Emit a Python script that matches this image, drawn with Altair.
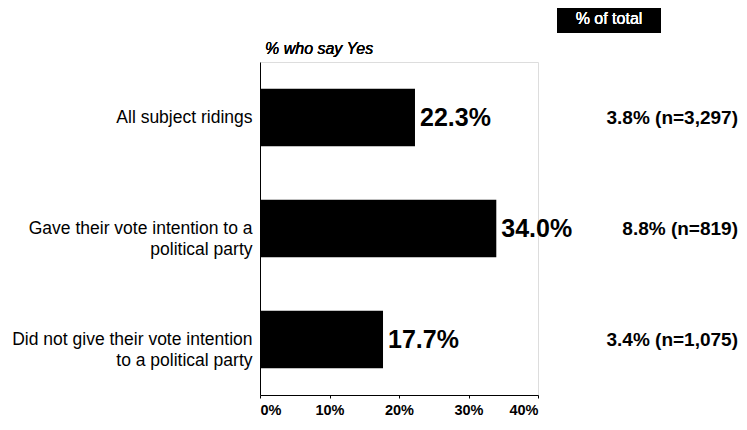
import altair as alt
import pandas as pd

categories = [
    "All subject ridings",
    "Gave their vote intention to a|political party",
    "Did not give their vote intention|to a political party",
]
yes_pct = [22.3, 34.0, 17.7]
total_pct = [3.8, 8.8, 3.4]
n_counts = ["3,297", "819", "1,075"]
x_ticks = [0, 10, 20, 30, 40]

df = pd.DataFrame({
    "cat": categories,
    "yes": yes_pct,
    "yes_label": [f"{v:.1f}%" for v in yes_pct],
    "total_label": [f"{t:.1f}% (n={n})" for t, n in zip(total_pct, n_counts)],
})

SANS = "Liberation Sans, Arial"

y_enc = alt.Y(
    "cat:N",
    sort=categories,
    scale=alt.Scale(paddingInner=0.48, paddingOuter=0.24),
    axis=alt.Axis(
        title=None,
        labelExpr="split(datum.label, '|')",
        labelFont=SANS,
        labelFontSize=17.5,
        labelColor="black",
        labelLineHeight=21,
        labelPadding=8,
        ticks=False,
        domainColor="black",
        domainWidth=1,
        labelLimit=300,
    ),
)

x_enc = alt.X(
    "yes:Q",
    scale=alt.Scale(domain=[0, 40]),
    axis=alt.Axis(
        title=None,
        values=x_ticks,
        labelExpr="datum.value + '%'",
        grid=False,
        labelFont=SANS,
        labelFontWeight="bold",
        labelFontSize=14.5,
        labelColor="black",
        labelPadding=5,
        tickSize=3,
        tickColor="black",
        domainColor="black",
    ),
)

base = alt.Chart(df)

bars = base.mark_bar(color="black").encode(x=x_enc, y=y_enc)

val_text = base.mark_text(
    align="left", baseline="middle", dx=5, font=SANS, fontWeight="bold",
    fontSize=25, color="black",
).encode(x="yes:Q", y=alt.Y("cat:N", sort=categories), text="yes_label:N")

tot_text = base.mark_text(
    align="right", baseline="middle", font=SANS, fontWeight="bold",
    fontSize=19, color="black",
).encode(x=alt.value(478), y=alt.Y("cat:N", sort=categories), text="total_label:N")

box = base.mark_rect(color="black").encode(
    x=alt.value(297), x2=alt.value(401), y=alt.value(-57), y2=alt.value(-29)
)
box_text = base.mark_text(
    align="center", baseline="middle", font=SANS, fontSize=16,
    fontWeight="normal", color="white"
).encode(x=alt.value(349), y=alt.value(-43), text=alt.value("% of total"))

title_text = base.mark_text(
    align="left", baseline="alphabetic", font=SANS, fontSize=16,
    fontStyle="italic", fontWeight="normal", color="black",
).encode(x=alt.value(5), y=alt.value(-8), text=alt.value("% who say Yes"))

chart = (
    alt.layer(bars, val_text, tot_text, box, box_text, title_text)
    .properties(
        width=278,
        height=333,
        autosize=alt.AutoSizeParams(type="none"),
        padding={"left": 252, "top": 54, "right": 201, "bottom": 27},
    )
    .configure_view(stroke=None)
    .configure(background="white")
)

chart.save("out.html", embed_options={"renderer": "svg", "actions": False})
